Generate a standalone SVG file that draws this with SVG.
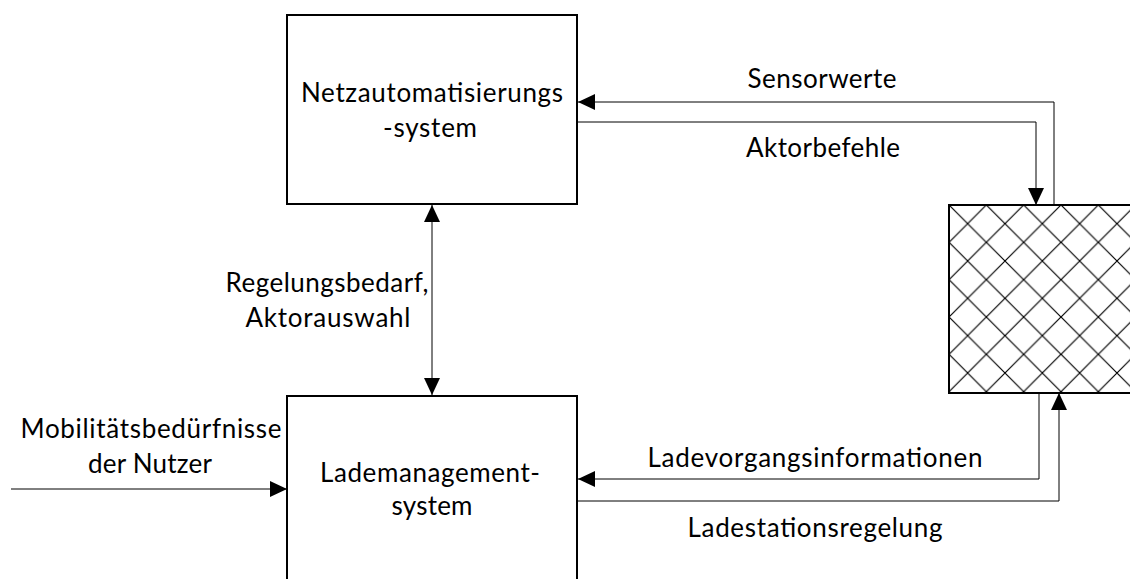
<svg xmlns="http://www.w3.org/2000/svg" width="1130" height="579" viewBox="0 0 1130 579">
  <style>
    .box { fill: #ffffff; stroke: #000000; stroke-width: 2; }
    .conn { fill: none; stroke: #000000; stroke-width: 1; }
    .lbl { font-family: Lato, "Open Sans", "Liberation Sans", sans-serif; font-size: 26px; fill: #000000; text-anchor: middle; }
  </style>
  <defs>
    <marker id="arrow" viewBox="0 0 17 16" refX="17" refY="8" markerWidth="17" markerHeight="16" markerUnits="userSpaceOnUse" orient="auto-start-reverse">
      <path d="M0,0 L17,8 L0,16 Z" fill="#000000"/>
    </marker>
    <pattern id="crosshatch" x="949" y="205" width="37.33" height="37.33" patternUnits="userSpaceOnUse">
      <rect width="37.33" height="37.33" fill="#ffffff"/>
      <path d="M0,0 L37.33,37.33 M37.33,0 L0,37.33" stroke="#000000" stroke-width="1.2" fill="none"/>
    </pattern>
  </defs>

  <!-- Grid automation system -->
  <g id="netzautomatisierung">
    <rect class="box" x="287" y="15" width="290" height="189"/>
    <text class="lbl" x="432" y="102" textLength="262">Netzautomatisierungs</text>
    <text class="lbl" x="430" y="137" textLength="94">-system</text>
  </g>

  <!-- Charging management system -->
  <g id="lademanagement">
    <rect class="box" x="287" y="396" width="290" height="200"/>
    <text class="lbl" x="430" y="482" textLength="220">Lademanagement-</text>
    <text class="lbl" x="432" y="515" textLength="81">system</text>
  </g>

  <!-- Physical process (hatched) -->
  <g id="prozess">
    <rect x="949" y="205" width="200" height="188" fill="url(#crosshatch)" stroke="#000000" stroke-width="2"/>
  </g>

  <!-- Connectors -->
  <g id="connectors">
    <path class="conn" d="M1054,205 V102 H578" marker-end="url(#arrow)"/>
    <path class="conn" d="M578,122 H1036 V205" marker-end="url(#arrow)"/>
    <path class="conn" d="M1039,393 V479 H578" marker-end="url(#arrow)"/>
    <path class="conn" d="M578,501 H1059 V393" marker-end="url(#arrow)"/>
    <path class="conn" d="M432,205 V395" marker-start="url(#arrow)" marker-end="url(#arrow)"/>
    <path class="conn" d="M11,489 H287" marker-end="url(#arrow)"/>
  </g>

  <!-- Connector labels -->
  <g id="labels">
    <text class="lbl" x="822" y="88" textLength="149">Sensorwerte</text>
    <text class="lbl" x="823" y="157" textLength="154">Aktorbefehle</text>
    <text class="lbl" x="327" y="292" textLength="203">Regelungsbedarf,</text>
    <text class="lbl" x="328" y="327" textLength="165">Aktorauswahl</text>
    <text class="lbl" x="151" y="438" textLength="261">Mobilitätsbedürfnisse</text>
    <text class="lbl" x="150" y="473" textLength="124">der Nutzer</text>
    <text class="lbl" x="815" y="467" textLength="335">Ladevorgangsinformationen</text>
    <text class="lbl" x="815" y="537" textLength="255">Ladestationsregelung</text>
  </g>
</svg>
